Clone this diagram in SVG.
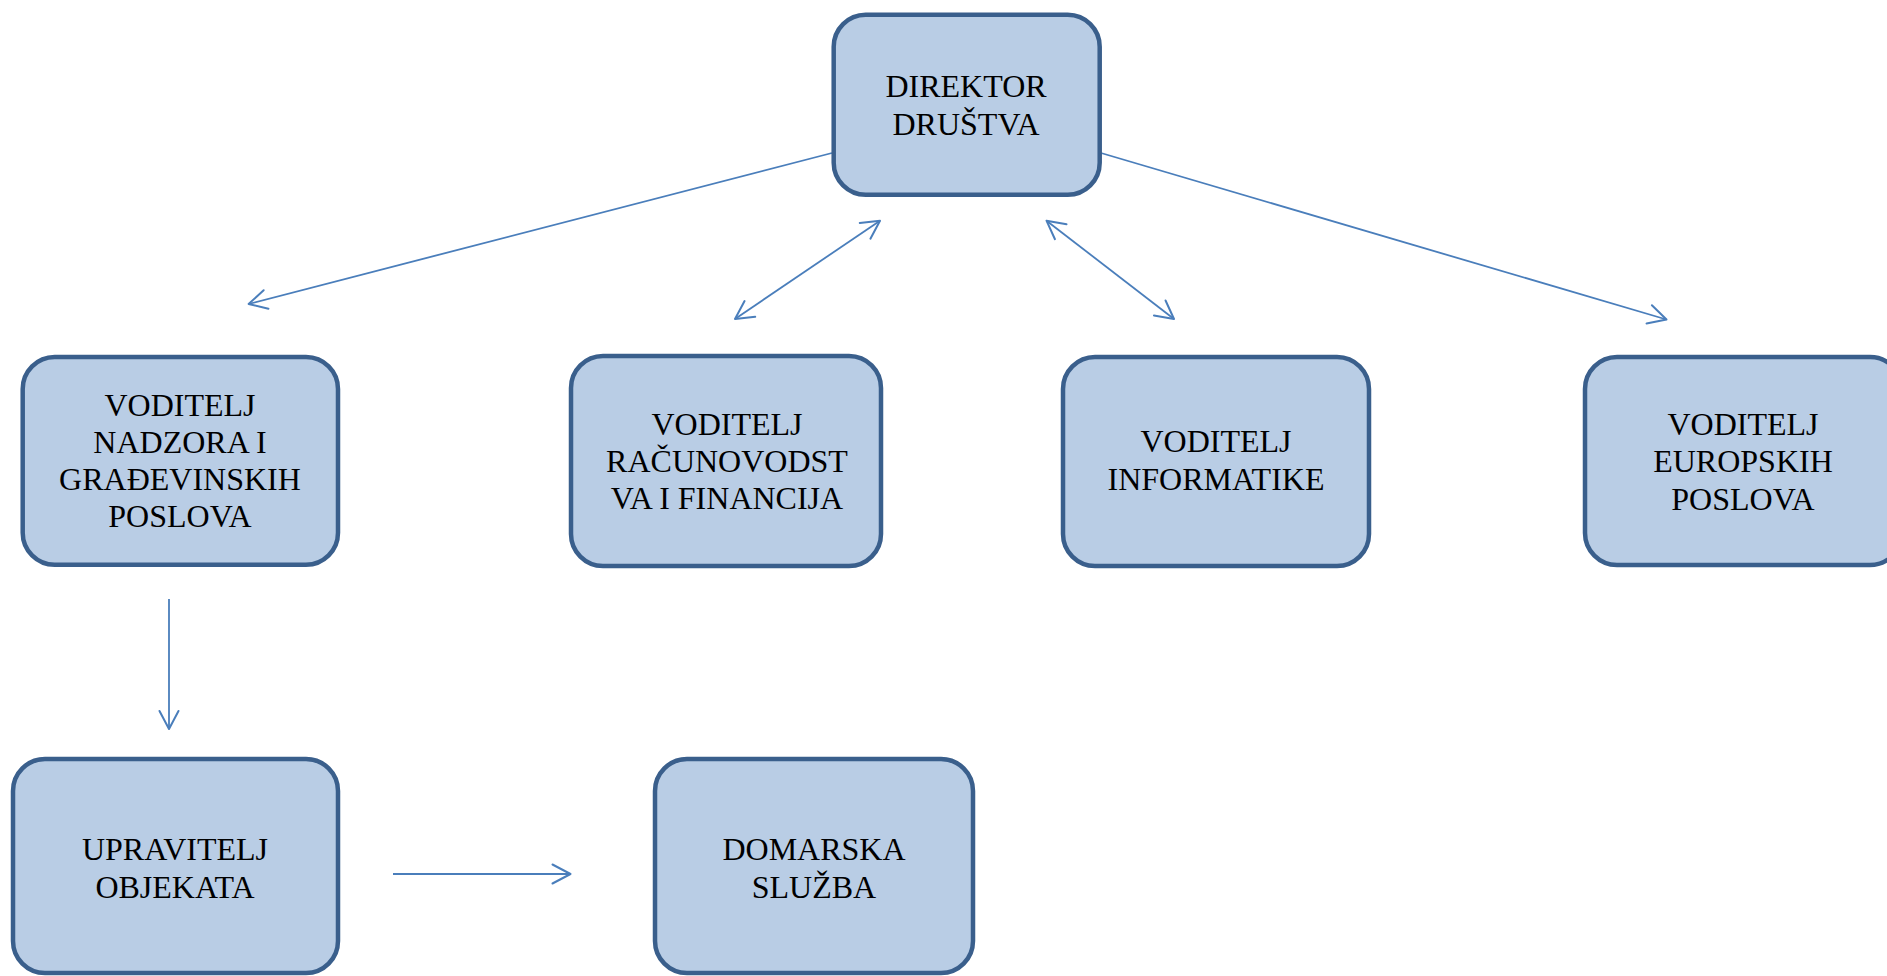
<svg xmlns="http://www.w3.org/2000/svg" width="1887" height="976" viewBox="0 0 1887 976">
<style>
.box{fill:#B9CDE5;stroke:#3A5F8C;stroke-width:4.5}
.lbl{font-family:"Liberation Serif","Times New Roman",serif;font-size:32px;fill:#000;text-anchor:middle}
.con{fill:none;stroke:#4A7EBB;stroke-width:1.8}
</style>
<defs>
<marker id="arr" markerUnits="userSpaceOnUse" markerWidth="26" markerHeight="26" viewBox="-22 -13 26 26" refX="0" refY="0" orient="auto-start-reverse">
<path d="M-18,-9.5 L0,0 L-18,9.5" fill="none" stroke="#4A7EBB" stroke-width="2" stroke-linejoin="round" stroke-linecap="round"/>
</marker>
</defs>
<rect width="1887" height="976" fill="#fff"/>
<g id="connectors">
<line class="con" x1="832" y1="153" x2="248.6" y2="304" marker-end="url(#arr)"/>
<line class="con" x1="880" y1="220.7" x2="735" y2="319" marker-start="url(#arr)" marker-end="url(#arr)"/>
<line class="con" x1="1046.5" y1="220.7" x2="1174" y2="319" marker-start="url(#arr)" marker-end="url(#arr)"/>
<line class="con" x1="1101" y1="153" x2="1666.5" y2="319.5" marker-end="url(#arr)"/>
<line class="con" x1="169" y1="599" x2="169" y2="729" marker-end="url(#arr)"/>
<line class="con" x1="393" y1="874" x2="570.5" y2="874" marker-end="url(#arr)"/>
</g>
<g id="direktor">
<rect class="box" x="833.7" y="14.7" width="266" height="180" rx="32"/>
<text class="lbl"><tspan x="966" y="97">DIREKTOR</tspan><tspan x="966" y="135">DRUŠTVA</tspan></text>
</g>
<g id="nadzor">
<rect class="box" x="22.7" y="357" width="315.3" height="207.7" rx="32"/>
<text class="lbl"><tspan x="180" y="416">VODITELJ</tspan><tspan x="180" y="453">NADZORA I</tspan><tspan x="180" y="490">GRAĐEVINSKIH</tspan><tspan x="180" y="527">POSLOVA</tspan></text>
</g>
<g id="racunovodstvo">
<rect class="box" x="571" y="356" width="310" height="210" rx="32"/>
<text class="lbl"><tspan x="727" y="435">VODITELJ</tspan><tspan x="727" y="472">RAČUNOVODST</tspan><tspan x="727" y="509">VA I FINANCIJA</tspan></text>
</g>
<g id="informatika">
<rect class="box" x="1063" y="357" width="306" height="209" rx="32"/>
<text class="lbl"><tspan x="1216" y="452">VODITELJ</tspan><tspan x="1216" y="490">INFORMATIKE</tspan></text>
</g>
<g id="europski">
<rect class="box" x="1585" y="357" width="317" height="208" rx="32"/>
<text class="lbl"><tspan x="1743" y="435">VODITELJ</tspan><tspan x="1743" y="472">EUROPSKIH</tspan><tspan x="1743" y="510">POSLOVA</tspan></text>
</g>
<g id="upravitelj">
<rect class="box" x="13" y="759" width="325" height="214" rx="32"/>
<text class="lbl"><tspan x="175" y="860">UPRAVITELJ</tspan><tspan x="175" y="898">OBJEKATA</tspan></text>
</g>
<g id="domarska">
<rect class="box" x="655" y="759" width="318" height="214" rx="32"/>
<text class="lbl"><tspan x="814" y="860">DOMARSKA</tspan><tspan x="814" y="898">SLUŽBA</tspan></text>
</g>
</svg>
